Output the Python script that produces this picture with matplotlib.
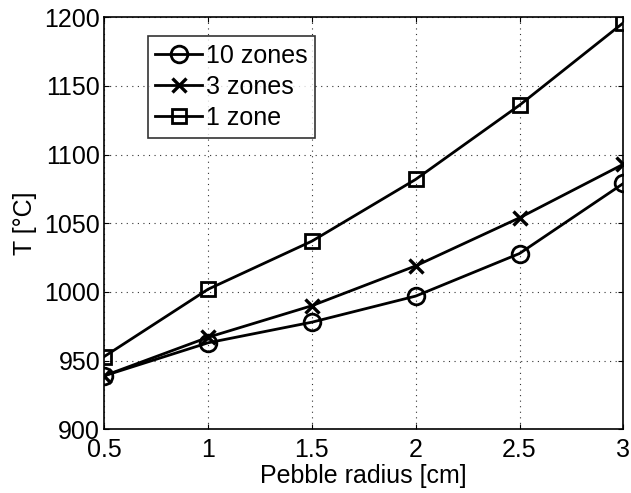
import matplotlib
matplotlib.use("Agg")
import matplotlib.pyplot as plt

radius = [0.5, 1.0, 1.5, 2.0, 2.5, 3.0]
t_10zones = [939, 963, 978, 997, 1028, 1079]
t_3zones = [939, 967, 990, 1019, 1054, 1093]
t_1zone = [953, 1002, 1037, 1082, 1136, 1196]
xticks = [0.5, 1, 1.5, 2, 2.5, 3]
xticklabels = ["0.5", "1", "1.5", "2", "2.5", "3"]
yticks = [900, 950, 1000, 1050, 1100, 1150, 1200]

plt.rcParams['font.family'] = ['Liberation Sans', 'DejaVu Sans']
fig = plt.figure(figsize=(6.31, 4.93), dpi=100)
ax = fig.add_axes([0.1653, 0.1292, 0.8225, 0.8357])

ax.plot(radius, t_10zones, '-o', color='k', lw=2.0, ms=12, mfc='none', mew=2.0, label='10 zones')
ax.plot(radius, t_3zones, '-x', color='k', lw=2.0, ms=9.5, mew=2.4, label='3 zones')
ax.plot(radius, t_1zone, '-s', color='k', lw=2.0, ms=10, mfc='none', mew=2.0, label='1 zone')

ax.set_xlim(0.5, 3)
ax.set_ylim(900, 1200)
ax.set_xticks(xticks)
ax.set_xticklabels(xticklabels)
ax.set_yticks(yticks)
ax.tick_params(direction='in', top=True, right=True, labelsize=18, length=3.5, width=0.8)
ax.tick_params(axis='x', pad=6.5)
ax.tick_params(axis='y', pad=3)
ax.grid(True, linestyle=(0, (1, 4)), color='#333333', lw=0.8)
for s in ax.spines.values():
    s.set_linewidth(1.2)
ax.set_xlabel('Pebble radius [cm]', fontsize=18, labelpad=1)
ax.set_ylabel('T [°C]', fontsize=18, labelpad=5)

leg = ax.legend(loc='upper left', bbox_to_anchor=(0.0836, 0.9546), fontsize=18, frameon=True,
                fancybox=False, edgecolor='k', handlelength=1.87, handletextpad=0.16,
                borderpad=0.3, labelspacing=0.29, borderaxespad=0)
leg.get_frame().set_linewidth(1.2)

fig.savefig('out.png', dpi=100)
